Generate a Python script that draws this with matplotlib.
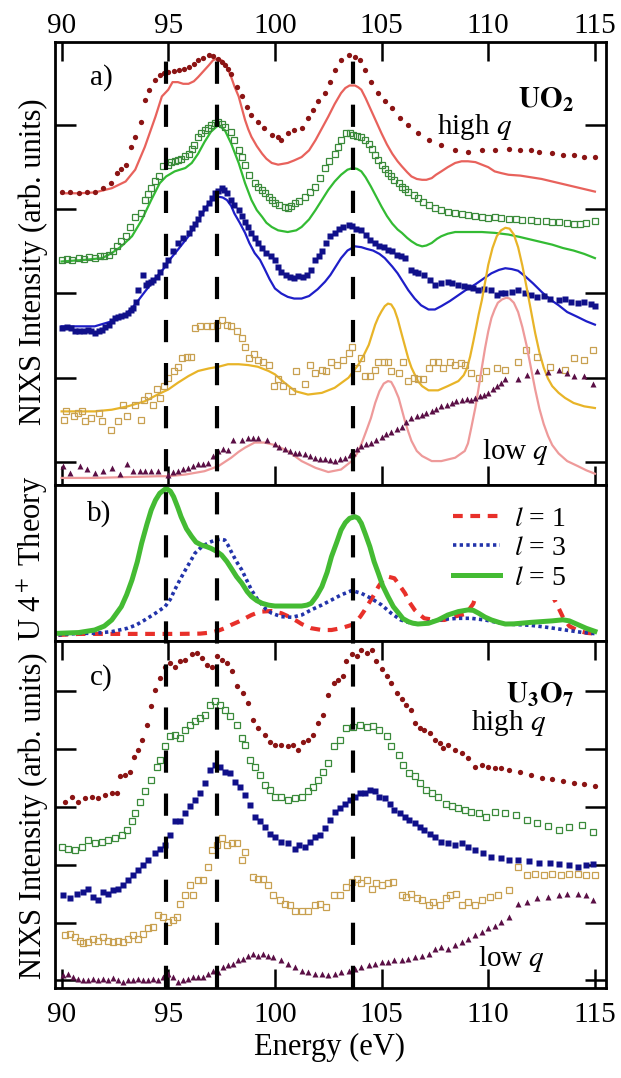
import numpy as np
import matplotlib
matplotlib.use('Agg')
import matplotlib.pyplot as plt

plt.rcParams['font.family'] = ['Liberation Serif', 'DejaVu Serif']
plt.rcParams['mathtext.fontset'] = 'stix'
plt.rcParams['lines.scale_dashes'] = False

# ---- data: (energy eV, intensity) ----
# panel a) UO2
uo2_red_pts = [(90.0, 3.21), (90.4, 3.2), (90.8, 3.19), (91.2, 3.2), (91.55, 3.21), (91.95, 3.25), (92.3, 3.31),
               (92.6, 3.43), (92.8, 3.48), (93.0, 3.53), (93.25, 3.74), (93.45, 3.86), (93.7, 4.04), (93.9, 4.30),
               (94.1, 4.42), (94.4, 4.53), (94.6, 4.59), (94.8, 4.62), (95.0, 4.63), (95.25, 4.64), (95.5, 4.65),
               (95.75, 4.67), (95.95, 4.69), (96.2, 4.73), (96.4, 4.77), (96.65, 4.80), (96.9, 4.83), (97.1, 4.82),
               (97.35, 4.79), (97.5, 4.75), (97.65, 4.71), (97.8, 4.66), (97.95, 4.61), (98.2, 4.45), (98.45, 4.34),
               (98.7, 4.22), (98.9, 4.12), (99.2, 4.04), (99.5, 3.96), (99.85, 3.88), (100.15, 3.86), (100.3, 3.82),
               (100.6, 3.90), (100.9, 3.94), (101.25, 3.96), (101.55, 4.08), (101.8, 4.18), (102.0, 4.28),
               (102.35, 4.38), (102.6, 4.51), (102.8, 4.65), (103.1, 4.77), (103.45, 4.83), (103.75, 4.81),
               (104.0, 4.77), (104.2, 4.65), (104.5, 4.51), (104.85, 4.38), (105.15, 4.28), (105.5, 4.20),
               (105.85, 4.08), (106.25, 4.00), (106.7, 3.90), (107.2, 3.82), (107.8, 3.76), (108.45, 3.70),
               (109.05, 3.68), (109.7, 3.70), (110.3, 3.70), (110.95, 3.72), (111.5, 3.70), (112.0, 3.70),
               (112.4, 3.68), (113.0, 3.67), (113.5, 3.65), (114.0, 3.64), (114.5, 3.62), (115.0, 3.62)]
uo2_red_fit = [(90.0, 3.19), (90.8, 3.19), (91.55, 3.20), (92.35, 3.25), (93.0, 3.33), (93.45, 3.47), (93.9, 3.74),
               (94.4, 4.10), (94.7, 4.34), (95.0, 4.42), (95.2, 4.51), (95.45, 4.51), (95.7, 4.49), (95.95, 4.49),
               (96.2, 4.52), (96.4, 4.57), (96.65, 4.64), (96.9, 4.71), (97.1, 4.77), (97.3, 4.79), (97.5, 4.77),
               (97.65, 4.73), (97.8, 4.66), (97.95, 4.57), (98.1, 4.46), (98.3, 4.34), (98.45, 4.20), (98.6, 4.06),
               (98.75, 3.95), (98.9, 3.86), (99.15, 3.75), (99.4, 3.66), (99.6, 3.60), (99.85, 3.55), (100.15, 3.53),
               (100.6, 3.55), (100.9, 3.58), (101.25, 3.62), (101.6, 3.70), (101.9, 3.82), (102.2, 3.96),
               (102.5, 4.10), (102.8, 4.25), (103.1, 4.38), (103.3, 4.44), (103.5, 4.47), (103.75, 4.47),
               (103.9, 4.45), (104.05, 4.42), (104.25, 4.32), (104.5, 4.18), (104.75, 4.04), (105.0, 3.90),
               (105.25, 3.77), (105.5, 3.66), (105.75, 3.57), (105.95, 3.51), (106.2, 3.44), (106.4, 3.39),
               (106.65, 3.36), (106.9, 3.35), (107.1, 3.35), (107.35, 3.37), (107.55, 3.41), (107.8, 3.45),
               (108.1, 3.50), (108.45, 3.55), (108.75, 3.57), (109.05, 3.57), (109.4, 3.56), (109.7, 3.53),
               (110.0, 3.50), (110.3, 3.45), (110.6, 3.43), (110.95, 3.41), (111.5, 3.40), (112.0, 3.38),
               (112.5, 3.36), (113.0, 3.33), (113.5, 3.30), (114.0, 3.27), (114.5, 3.24), (115.0, 3.21)]
uo2_green_pts = [(90.0, 2.40), (90.25, 2.41), (90.5, 2.40), (90.8, 2.42), (91.05, 2.41), (91.3, 2.43), (91.55, 2.42),
                 (91.8, 2.44), (92.0, 2.45), (92.2, 2.46), (92.4, 2.50), (92.6, 2.56), (92.8, 2.62), (93.0, 2.68),
                 (93.2, 2.79), (93.45, 2.91), (93.7, 2.95), (93.9, 3.11), (94.05, 3.18), (94.2, 3.25), (94.4, 3.33),
                 (94.55, 3.39), (94.75, 3.51), (95.0, 3.53), (95.15, 3.56), (95.3, 3.57), (95.45, 3.58), (95.6, 3.60),
                 (95.8, 3.63), (95.95, 3.66), (96.1, 3.71), (96.2, 3.76), (96.4, 3.86), (96.55, 3.90), (96.7, 3.94),
                 (96.85, 3.97), (97.0, 4.00), (97.2, 4.02), (97.35, 4.04), (97.5, 4.01), (97.65, 3.98), (97.95, 3.92),
                 (98.1, 3.82), (98.3, 3.70), (98.45, 3.62), (98.6, 3.53), (98.8, 3.41), (99.05, 3.31), (99.2, 3.27),
                 (99.4, 3.23), (99.55, 3.19), (99.7, 3.15), (99.85, 3.11), (100.0, 3.07), (100.2, 3.05),
                 (100.45, 3.03), (100.6, 3.01), (100.75, 3.04), (100.95, 3.07), (101.15, 3.10), (101.4, 3.15),
                 (101.65, 3.21), (101.9, 3.27), (102.1, 3.37), (102.35, 3.49), (102.55, 3.57), (102.8, 3.66),
                 (102.95, 3.74), (103.1, 3.82), (103.35, 3.90), (103.5, 3.91), (103.65, 3.88), (103.85, 3.87),
                 (104.05, 3.86), (104.2, 3.82), (104.4, 3.78), (104.55, 3.71), (104.7, 3.64), (104.85, 3.58),
                 (105.0, 3.53), (105.15, 3.48), (105.3, 3.43), (105.45, 3.39), (105.6, 3.35), (105.8, 3.31),
                 (105.95, 3.27), (106.1, 3.24), (106.25, 3.21), (106.5, 3.17), (106.7, 3.13), (106.95, 3.09),
                 (107.2, 3.05), (107.5, 3.02), (107.8, 2.99), (108.1, 2.97), (108.45, 2.95), (108.75, 2.94),
                 (109.05, 2.93), (109.4, 2.92), (109.7, 2.91), (110.0, 2.90), (110.3, 2.91), (110.6, 2.90),
                 (110.95, 2.89), (111.3, 2.88), (111.6, 2.87), (112.0, 2.87), (112.3, 2.86), (112.7, 2.86),
                 (113.0, 2.85), (113.3, 2.85), (113.7, 2.84), (114.0, 2.83), (114.3, 2.83), (114.6, 2.84), (115.0, 2.86)]
uo2_green_fit = [(90.0, 2.38), (91.1, 2.40), (91.9, 2.42), (92.35, 2.48), (92.8, 2.56), (93.3, 2.68), (93.75, 2.87),
                 (94.2, 3.11), (94.6, 3.31), (94.9, 3.39), (95.3, 3.45), (95.8, 3.49), (96.1, 3.55), (96.4, 3.66),
                 (96.7, 3.80), (97.0, 3.92), (97.35, 4.00), (97.65, 3.94), (97.95, 3.78), (98.3, 3.55), (98.6, 3.31),
                 (98.9, 3.11), (99.15, 2.99), (99.4, 2.91), (99.6, 2.84), (99.85, 2.79), (100.15, 2.75), (100.6, 2.73),
                 (101.0, 2.75), (101.25, 2.79), (101.6, 2.88), (101.9, 2.99), (102.2, 3.11), (102.5, 3.23),
                 (102.8, 3.33), (103.1, 3.41), (103.4, 3.47), (103.65, 3.49), (103.85, 3.48), (104.05, 3.45),
                 (104.25, 3.38), (104.5, 3.27), (104.75, 3.15), (105.0, 3.03), (105.25, 2.92), (105.5, 2.83),
                 (105.75, 2.76), (105.95, 2.72), (106.2, 2.66), (106.4, 2.62), (106.65, 2.58), (106.9, 2.56),
                 (107.1, 2.57), (107.35, 2.60), (107.6, 2.65), (107.8, 2.68), (108.1, 2.71), (108.45, 2.73),
                 (109.05, 2.73), (109.7, 2.73), (110.3, 2.72), (110.95, 2.70), (111.5, 2.67), (112.0, 2.64),
                 (112.5, 2.61), (113.0, 2.58), (113.5, 2.54), (114.0, 2.51), (114.5, 2.47), (115.0, 2.42)]
uo2_blue_pts = [(90.0, 1.59), (90.25, 1.60), (90.45, 1.59), (90.65, 1.56), (90.8, 1.55), (91.05, 1.56), (91.25, 1.57),
                (91.4, 1.55), (91.55, 1.53), (91.75, 1.55), (91.9, 1.57), (92.05, 1.60), (92.2, 1.63), (92.35, 1.67),
                (92.5, 1.71), (92.65, 1.72), (92.8, 1.73), (92.95, 1.75), (93.1, 1.77), (93.25, 1.80), (93.35, 1.83),
                (93.5, 1.90), (93.6, 2.04), (93.8, 2.22), (93.95, 2.10), (94.05, 2.12), (94.2, 2.14), (94.3, 2.16),
                (94.45, 2.20), (94.6, 2.26), (94.85, 2.34), (95.0, 2.40), (95.2, 2.50), (95.45, 2.60), (95.7, 2.66),
                (95.95, 2.72), (96.1, 2.78), (96.25, 2.83), (96.4, 2.89), (96.55, 2.95), (96.7, 3.01), (96.9, 3.07),
                (97.05, 3.13), (97.2, 3.19), (97.35, 3.22), (97.5, 3.25), (97.6, 3.23), (97.75, 3.19), (97.95, 3.11),
                (98.1, 3.05), (98.3, 2.99), (98.45, 2.92), (98.6, 2.85), (98.75, 2.79), (98.9, 2.72), (99.05, 2.66),
                (99.2, 2.60), (99.4, 2.54), (99.6, 2.48), (99.8, 2.44), (100.0, 2.40), (100.15, 2.32), (100.3, 2.26),
                (100.5, 2.22), (100.7, 2.20), (100.9, 2.18), (101.1, 2.21), (101.3, 2.20), (101.5, 2.22),
                (101.7, 2.28), (101.9, 2.40), (102.05, 2.44), (102.2, 2.50), (102.4, 2.60), (102.6, 2.68),
                (102.8, 2.72), (103.0, 2.76), (103.2, 2.79), (103.45, 2.81), (103.6, 2.80), (103.8, 2.77),
                (104.05, 2.75), (104.25, 2.70), (104.45, 2.64), (104.7, 2.60), (104.9, 2.56), (105.1, 2.55),
                (105.3, 2.52), (105.5, 2.50), (105.7, 2.46), (105.9, 2.44), (106.1, 2.42), (106.4, 2.28),
                (106.55, 2.26), (106.7, 2.24), (107.0, 2.22), (107.25, 2.16), (107.5, 2.10), (107.8, 2.12),
                (108.1, 2.14), (108.3, 2.12), (108.6, 2.10), (108.85, 2.09), (109.05, 2.08), (109.3, 2.06),
                (109.5, 2.04), (109.8, 2.05), (110.15, 2.04), (110.4, 1.98), (110.6, 2.01), (110.8, 2.00),
                (111.1, 2.02), (111.4, 2.04), (111.7, 2.00), (112.0, 1.98), (112.3, 1.96), (112.6, 1.97),
                (112.9, 1.93), (113.3, 1.92), (113.6, 1.93), (113.9, 1.90), (114.2, 1.89), (114.5, 1.90),
                (114.8, 1.87), (115.0, 1.85)]
uo2_blue_fit = [(90.0, 1.61), (90.8, 1.61), (91.55, 1.61), (92.35, 1.67), (93.0, 1.75), (93.45, 1.87), (93.9, 2.02),
                (94.4, 2.18), (94.8, 2.30), (95.0, 2.38), (95.45, 2.52), (95.95, 2.68), (96.4, 2.87), (96.7, 2.99),
                (96.9, 3.07), (97.1, 3.12), (97.35, 3.15), (97.55, 3.14), (97.75, 3.11), (97.95, 3.04), (98.1, 2.95),
                (98.35, 2.84), (98.6, 2.72), (98.8, 2.60), (99.05, 2.48), (99.3, 2.40), (99.5, 2.30), (99.75, 2.17),
                (100.0, 2.06), (100.3, 2.00), (100.6, 1.96), (100.9, 1.94), (101.25, 1.94), (101.6, 1.97),
                (102.0, 2.05), (102.35, 2.14), (102.6, 2.22), (102.8, 2.30), (103.1, 2.42), (103.4, 2.51),
                (103.75, 2.56), (104.05, 2.55), (104.3, 2.53), (104.6, 2.51), (104.9, 2.47), (105.15, 2.42),
                (105.5, 2.32), (105.75, 2.24), (105.95, 2.16), (106.25, 2.04), (106.55, 1.94), (106.85, 1.86),
                (107.2, 1.81), (107.5, 1.81), (107.8, 1.85), (108.2, 1.91), (108.6, 1.98), (109.0, 2.05),
                (109.4, 2.11), (109.8, 2.18), (110.15, 2.24), (110.5, 2.28), (110.8, 2.30), (111.1, 2.29),
                (111.4, 2.27), (111.75, 2.20), (112.1, 2.12), (112.5, 2.02), (112.9, 1.93), (113.3, 1.86),
                (113.7, 1.78), (114.2, 1.72), (114.6, 1.67), (115.0, 1.63)]
uo2_yellow_pts = [(90.1, 0.50), (90.2, 0.60), (90.6, 0.54), (90.75, 0.58), (90.95, 0.60), (91.1, 0.48), (91.4, 0.52),
                  (91.75, 0.58), (91.9, 0.48), (92.3, 0.38), (92.65, 0.48), (92.9, 0.68), (93.05, 0.54),
                  (93.45, 0.68), (93.7, 0.50), (93.85, 0.74), (94.05, 0.78), (94.3, 0.68), (94.45, 0.86),
                  (94.6, 0.76), (94.8, 0.90), (95.0, 1.00), (95.25, 1.08), (95.45, 1.13), (95.65, 1.23),
                  (95.9, 1.25), (96.05, 1.24), (96.25, 1.59), (96.5, 1.61), (96.8, 1.61), (97.05, 1.61),
                  (97.3, 1.63), (97.5, 1.69), (97.75, 1.63), (97.95, 1.61), (98.2, 1.55), (98.45, 1.47),
                  (98.6, 1.37), (98.8, 1.23), (99.0, 1.28), (99.2, 1.21), (99.45, 1.19), (99.7, 1.15),
                  (99.95, 0.90), (100.15, 0.98), (100.4, 0.90), (100.8, 0.84), (101.0, 1.08), (101.4, 0.92),
                  (101.65, 1.15), (101.9, 1.06), (102.2, 1.09), (102.4, 1.08), (102.65, 1.19), (102.9, 1.15),
                  (103.2, 1.21), (103.45, 1.29), (103.6, 1.37), (103.85, 1.11), (104.05, 1.23), (104.2, 1.02),
                  (104.45, 1.02), (104.7, 1.09), (104.85, 1.19), (105.1, 1.19), (105.3, 1.19), (105.45, 1.08),
                  (105.8, 1.06), (106.0, 1.19), (106.25, 0.96), (106.5, 1.00), (106.7, 0.98), (106.95, 0.98),
                  (107.2, 1.11), (107.4, 1.19), (107.65, 1.19), (107.9, 1.11), (108.2, 1.19), (108.45, 1.15),
                  (108.7, 1.17), (108.9, 1.15), (109.2, 1.06), (109.55, 1.00), (109.9, 1.08), (110.4, 1.11),
                  (110.8, 1.09), (111.4, 1.19), (111.75, 1.33), (112.3, 1.25), (112.9, 1.13), (113.6, 1.09),
                  (114.0, 1.23), (114.5, 1.21), (114.9, 1.33)]
uo2_yellow_fit = [(90.0, 0.60), (90.8, 0.60), (91.55, 0.60), (92.35, 0.62), (93.1, 0.66), (93.9, 0.72), (94.5, 0.80),
                  (95.0, 0.86), (95.45, 0.94), (95.95, 1.02), (96.4, 1.08), (96.9, 1.11), (97.35, 1.13), (97.8, 1.16),
                  (98.3, 1.16), (98.75, 1.15), (99.2, 1.13), (99.7, 1.08), (100.0, 1.04), (100.45, 0.94),
                  (100.95, 0.84), (101.55, 0.80), (102.2, 0.82), (102.8, 0.88), (103.45, 1.00), (103.9, 1.15),
                  (104.15, 1.26), (104.4, 1.39), (104.55, 1.51), (104.7, 1.63), (104.85, 1.72), (105.0, 1.79),
                  (105.15, 1.85), (105.3, 1.88), (105.45, 1.87), (105.6, 1.81), (105.75, 1.70), (105.95, 1.51),
                  (106.1, 1.37), (106.25, 1.23), (106.4, 1.12), (106.55, 1.04), (106.7, 0.96), (106.9, 0.90),
                  (107.2, 0.85), (107.65, 0.85), (108.1, 0.90), (108.6, 0.96), (108.85, 1.03), (109.0, 1.11),
                  (109.15, 1.25), (109.3, 1.43), (109.45, 1.62), (109.55, 1.75), (109.7, 1.92), (109.8, 2.06),
                  (110.0, 2.34), (110.2, 2.54), (110.4, 2.68), (110.6, 2.75), (110.8, 2.78), (111.0, 2.77),
                  (111.2, 2.70), (111.4, 2.55), (111.6, 2.33), (111.8, 2.07), (112.0, 1.80), (112.2, 1.53),
                  (112.4, 1.30), (112.6, 1.12), (112.8, 0.99), (113.0, 0.90), (113.3, 0.82), (113.6, 0.76),
                  (114.0, 0.70), (114.5, 0.66), (115.0, 0.64)]
uo2_purple_pts = [(90.08, -0.05), (90.4, -0.13), (90.86, -0.05), (91.17, -0.09), (91.56, -0.13), (91.95, -0.11),
                  (92.34, -0.07), (92.73, -0.14), (93.05, -0.03), (93.36, -0.11), (93.67, -0.11), (93.9, -0.11),
                  (94.2, -0.11), (94.53, -0.11), (95.0, -0.15), (95.23, -0.12), (95.47, -0.11), (95.7, -0.09),
                  (95.94, -0.07), (96.17, -0.05), (96.4, -0.03), (96.64, -0.02), (96.88, -0.01), (97.1, 0.07),
                  (97.34, 0.13), (97.58, 0.15), (97.81, 0.14), (98.05, 0.26), (98.44, 0.26), (98.75, 0.28),
                  (98.98, 0.28), (99.22, 0.28), (99.61, 0.26), (100.0, 0.21), (100.2, 0.18), (100.45, 0.15),
                  (100.7, 0.13), (100.95, 0.11), (101.15, 0.10), (101.4, 0.09), (101.65, 0.07), (101.9, 0.05),
                  (102.1, 0.04), (102.35, 0.03), (102.6, 0.02), (102.8, 0.01), (103.05, 0.03), (103.3, 0.05),
                  (103.5, 0.08), (103.65, 0.11), (103.85, 0.15), (104.05, 0.19), (104.25, 0.21), (104.5, 0.23),
                  (104.75, 0.26), (105.0, 0.30), (105.2, 0.33), (105.45, 0.36), (105.7, 0.39), (105.95, 0.42),
                  (106.15, 0.47), (106.4, 0.52), (106.65, 0.54), (106.9, 0.56), (107.1, 0.58), (107.35, 0.60),
                  (107.55, 0.63), (107.8, 0.66), (108.05, 0.68), (108.3, 0.70), (108.5, 0.72), (108.75, 0.74),
                  (109.0, 0.75), (109.2, 0.74), (109.4, 0.76), (109.6, 0.78), (109.8, 0.80), (110.0, 0.82),
                  (110.2, 0.86), (110.4, 0.90), (110.6, 0.94), (110.8, 0.98), (111.4, 0.98), (111.8, 1.03),
                  (112.3, 1.08), (112.8, 1.07), (113.3, 1.09), (113.7, 1.06), (114.0, 1.02), (114.5, 1.02),
                  (114.9, 0.92)]
uo2_pink_fit = [(90.0, -0.19), (91.55, -0.19), (93.1, -0.18), (94.5, -0.17), (95.0, -0.17), (95.8, -0.15),
                (96.7, -0.11), (97.35, -0.05), (97.95, 0.05), (98.3, 0.12), (98.6, 0.17), (99.05, 0.23), (99.5, 0.23),
                (100.0, 0.20), (100.6, 0.13), (101.25, 0.01), (101.9, -0.07), (102.5, -0.12), (103.1, -0.09),
                (103.6, 0.01), (103.85, 0.10), (104.05, 0.21), (104.3, 0.38), (104.5, 0.52), (104.7, 0.70),
                (104.9, 0.84), (105.1, 0.93), (105.3, 0.96), (105.45, 0.95), (105.6, 0.88), (105.8, 0.76),
                (105.95, 0.62), (106.1, 0.48), (106.25, 0.36), (106.4, 0.25), (106.65, 0.13), (106.9, 0.07),
                (107.35, 0.01), (107.8, 0.01), (108.45, 0.05), (108.9, 0.13), (109.05, 0.22), (109.2, 0.40),
                (109.4, 0.65), (109.55, 0.88), (109.7, 1.12), (109.85, 1.35), (110.0, 1.55), (110.15, 1.71),
                (110.3, 1.81), (110.45, 1.89), (110.65, 1.93), (110.85, 1.95), (111.0, 1.94), (111.2, 1.89),
                (111.4, 1.78), (111.6, 1.60), (111.8, 1.38), (112.0, 1.12), (112.2, 0.86), (112.4, 0.63),
                (112.6, 0.45), (112.8, 0.31), (113.0, 0.20), (113.3, 0.10), (113.7, 0.01), (114.2, -0.05),
                (114.6, -0.10), (115.0, -0.14)]

# panel b) U 4+ theory
theory_l1 = [(89.85, 1.1), (90.8, 1.8), (92.35, 1.8), (93.9, 1.8), (95.45, 1.8), (96.5, 2.0), (97.0, 2.7), (97.35, 4.0),
             (97.65, 5.6), (97.95, 7.8), (98.3, 10.0), (98.6, 12.2), (98.9, 14.4), (99.15, 15.8), (99.4, 16.7),
             (99.85, 17.1), (100.3, 15.6), (100.55, 14.0), (100.8, 12.2), (101.05, 10.2), (101.25, 8.4),
             (101.5, 6.8), (101.7, 5.6), (102.2, 4.4), (102.65, 4.4), (103.1, 5.6), (103.6, 7.8), (103.8, 10.0),
             (104.0, 13.3), (104.2, 17.5), (104.4, 22.2), (104.65, 28.0), (104.85, 33.3), (105.05, 37.5),
             (105.3, 40.0), (105.6, 38.9), (105.85, 34.0), (106.1, 28.9), (106.3, 23.0), (106.55, 17.8),
             (106.8, 14.5), (107.0, 12.2), (107.5, 11.1), (107.95, 11.1), (108.4, 13.3), (108.9, 15.0),
             (109.1, 18.0), (109.3, 22.0), (109.5, 31.0), (109.8, 42.0), (110.1, 52.0), (110.5, 57.0),
             (111.0, 58.0), (111.5, 55.0), (112.0, 48.0), (112.5, 38.0), (112.9, 30.0), (113.2, 22.0),
             (113.5, 13.0), (113.8, 7.0), (114.2, 4.0), (114.6, 2.5), (115.0, 2.0)]
theory_l3 = [(89.85, 1.1), (90.8, 2.2), (91.55, 2.2), (92.35, 3.3), (93.1, 5.6), (93.5, 7.8), (93.9, 11.1), (94.4, 15.6),
             (94.85, 20.0), (95.1, 25.0), (95.3, 31.1), (95.55, 38.0), (95.8, 44.4), (96.05, 50.5), (96.25, 55.6),
             (96.5, 59.0), (96.7, 61.1), (96.95, 63.0), (97.2, 64.4), (97.45, 65.0), (97.65, 64.4), (97.8, 61.0),
             (97.95, 56.7), (98.2, 50.0), (98.45, 44.4), (98.7, 37.0), (98.9, 31.1), (99.15, 25.5), (99.4, 21.1),
             (99.6, 18.0), (99.85, 15.6), (100.3, 13.3), (100.8, 12.9), (101.25, 14.4), (101.7, 17.8),
             (102.2, 21.1), (102.65, 24.4), (103.1, 27.8), (103.6, 30.7), (104.05, 28.9), (104.5, 25.6),
             (105.0, 21.1), (105.45, 15.6), (105.9, 11.1), (106.4, 8.9), (106.85, 8.4), (107.3, 10.0),
             (107.95, 11.6), (108.6, 12.2), (109.2, 12.2), (109.85, 11.1), (110.4, 9.5), (110.8, 8.4),
             (111.4, 8.0), (112.0, 7.5), (112.6, 6.5), (113.2, 5.3), (113.8, 4.0), (114.4, 2.8), (115.0, 2.0)]
theory_l5 = [(89.85, 2.2), (90.8, 2.7), (91.55, 4.4), (92.0, 7.0), (92.35, 11.1), (92.8, 20.0), (93.05, 28.0),
             (93.3, 37.8), (93.55, 50.0), (93.75, 62.2), (94.0, 75.0), (94.2, 84.4), (94.4, 91.0), (94.6, 95.6),
             (94.9, 98.9), (95.1, 97.0), (95.25, 93.3), (95.45, 86.0), (95.6, 80.0), (95.85, 72.0), (96.1, 66.7),
             (96.3, 63.0), (96.55, 61.1), (96.8, 60.0), (97.0, 58.9), (97.25, 57.0), (97.5, 54.4), (97.75, 50.0),
             (97.95, 45.6), (98.2, 40.0), (98.45, 35.6), (98.7, 30.0), (98.9, 26.7), (99.15, 24.0), (99.4, 22.2),
             (99.7, 21.0), (100.0, 20.4), (100.6, 20.4), (101.25, 20.4), (101.5, 21.0), (101.7, 22.2),
             (101.95, 27.0), (102.2, 33.3), (102.45, 43.0), (102.65, 53.3), (102.9, 63.0), (103.1, 71.1),
             (103.3, 76.0), (103.5, 78.9), (103.75, 80.0), (103.9, 79.0), (104.05, 75.6), (104.25, 68.0),
             (104.45, 60.0), (104.65, 50.0), (104.85, 42.2), (105.05, 34.0), (105.3, 26.7), (105.55, 20.0),
             (105.8, 15.6), (106.0, 12.0), (106.25, 10.0), (106.45, 9.0), (106.7, 8.4), (107.2, 8.9),
             (107.65, 11.1), (108.1, 14.4), (108.6, 16.7), (109.05, 17.8), (109.3, 17.5), (109.55, 15.6),
             (109.85, 13.0), (110.15, 11.1), (110.5, 9.5), (110.8, 8.4), (111.2, 8.5), (111.6, 9.0),
             (112.0, 9.5), (112.5, 10.0), (113.0, 10.5), (113.5, 11.2), (113.8, 10.5), (114.2, 8.0),
             (114.6, 5.5), (115.0, 3.5)]

# panel c) U3O7
u3o7_red_pts = [(90.16, 3.09), (90.47, 3.18), (90.78, 3.09), (91.09, 3.15), (91.41, 3.18), (91.72, 3.15), (92.03, 3.21),
                (92.34, 3.24), (92.58, 3.25), (92.73, 3.53), (92.97, 3.55), (93.2, 3.60), (93.41, 3.87), (93.59, 3.99),
                (93.78, 4.16), (93.98, 4.42), (94.19, 4.74), (94.38, 5.03), (94.61, 5.23), (94.84, 5.43),
                (95.08, 5.49), (95.31, 5.43), (95.55, 5.52), (95.78, 5.55), (96.09, 5.64), (96.33, 5.66),
                (96.56, 5.58), (96.8, 5.46), (97.03, 5.43), (97.27, 5.61), (97.5, 5.55), (97.73, 5.49), (97.97, 5.35),
                (98.2, 5.09), (98.52, 4.97), (98.75, 4.80), (98.98, 4.51), (99.22, 4.36), (99.53, 4.25),
                (99.77, 4.13), (100.0, 4.08), (100.3, 4.08), (100.6, 4.05), (100.85, 4.08), (101.1, 3.99),
                (101.3, 4.13), (101.55, 4.16), (101.8, 4.25), (102.0, 4.45), (102.25, 4.60), (102.5, 4.94),
                (102.75, 5.14), (102.95, 5.20), (103.2, 5.26), (103.35, 5.52), (103.6, 5.64), (103.85, 5.61),
                (104.05, 5.72), (104.3, 5.66), (104.55, 5.72), (104.75, 5.52), (105.0, 5.38), (105.25, 5.26),
                (105.45, 5.14), (105.7, 4.97), (105.95, 4.86), (106.15, 4.77), (106.4, 4.68), (106.55, 4.45),
                (106.8, 4.36), (107.0, 4.34), (107.25, 4.28), (107.5, 4.16), (107.75, 4.10), (107.9, 4.02),
                (108.1, 4.08), (108.45, 3.99), (108.75, 3.93), (109.05, 3.84), (109.4, 3.70), (109.7, 3.73),
                (110.0, 3.70), (110.3, 3.67), (110.6, 3.67), (110.95, 3.64), (111.5, 3.60), (112.0, 3.55),
                (112.5, 3.50), (113.0, 3.48), (113.5, 3.45), (114.0, 3.42), (114.5, 3.40), (115.0, 3.36)]
u3o7_green_pts = [(90.0, 2.31), (90.31, 2.28), (90.63, 2.25), (90.94, 2.31), (91.25, 2.43), (91.56, 2.37), (91.88, 2.40),
                  (92.19, 2.43), (92.5, 2.46), (92.81, 2.51), (93.05, 2.60), (93.28, 2.75), (93.44, 2.89),
                  (93.67, 3.09), (93.91, 3.27), (94.19, 3.47), (94.45, 3.70), (94.61, 3.82), (94.84, 4.05),
                  (95.08, 4.22), (95.31, 4.25), (95.55, 4.19), (95.78, 4.34), (96.02, 4.42), (96.25, 4.48),
                  (96.48, 4.54), (96.72, 4.60), (96.95, 4.77), (97.19, 4.83), (97.42, 4.77), (97.66, 4.68),
                  (97.89, 4.57), (98.2, 4.42), (98.44, 4.19), (98.59, 4.08), (98.83, 3.82), (99.06, 3.70),
                  (99.3, 3.55), (99.53, 3.38), (99.77, 3.29), (100.0, 3.18), (100.3, 3.18), (100.6, 3.12),
                  (100.95, 3.15), (101.25, 3.18), (101.55, 3.27), (101.8, 3.35), (102.0, 3.47), (102.25, 3.61),
                  (102.5, 3.76), (102.75, 4.05), (103.05, 4.16), (103.35, 4.36), (103.65, 4.39), (104.0, 4.42),
                  (104.3, 4.39), (104.6, 4.40), (104.9, 4.34), (105.25, 4.22), (105.45, 4.05), (105.8, 3.90),
                  (106.0, 3.73), (106.3, 3.58), (106.55, 3.53), (106.8, 3.41), (107.1, 3.29), (107.35, 3.24),
                  (107.65, 3.18), (108.0, 3.06), (108.3, 3.01), (108.6, 2.98), (108.9, 2.95), (109.2, 2.92),
                  (109.55, 2.89), (109.9, 2.83), (110.3, 2.92), (110.8, 2.89), (111.3, 2.86), (111.8, 2.78),
                  (112.3, 2.72), (112.8, 2.68), (113.3, 2.60), (113.8, 2.66), (114.4, 2.69), (114.9, 2.57)]
u3o7_blue_pts = [(90.08, 1.47), (90.39, 1.42), (90.7, 1.50), (91.02, 1.53), (91.25, 1.59), (91.48, 1.45), (91.72, 1.39),
                 (91.95, 1.53), (92.19, 1.50), (92.42, 1.56), (92.66, 1.59), (92.89, 1.65), (93.13, 1.73),
                 (93.36, 1.82), (93.59, 1.91), (93.83, 1.99), (94.06, 2.08), (94.38, 2.20), (94.61, 2.28),
                 (94.84, 2.34), (95.08, 2.51), (95.31, 2.75), (95.55, 2.75), (95.78, 2.89), (96.02, 3.01),
                 (96.25, 3.12), (96.48, 3.24), (96.72, 3.41), (96.95, 3.64), (97.19, 3.73), (97.42, 3.70),
                 (97.66, 3.61), (97.89, 3.58), (98.13, 3.44), (98.36, 3.35), (98.59, 3.21), (98.83, 3.03),
                 (99.06, 2.83), (99.3, 2.75), (99.53, 2.66), (99.77, 2.54), (100.0, 2.49), (100.3, 2.40),
                 (100.6, 2.37), (100.95, 2.28), (101.15, 2.34), (101.4, 2.31), (101.65, 2.40), (101.9, 2.49),
                 (102.1, 2.51), (102.35, 2.63), (102.6, 2.77), (102.8, 2.92), (103.05, 2.98), (103.3, 3.06),
                 (103.5, 3.12), (103.75, 3.18), (104.0, 3.24), (104.2, 3.24), (104.45, 3.29), (104.7, 3.27),
                 (104.9, 3.18), (105.15, 3.15), (105.4, 3.06), (105.6, 2.95), (105.85, 2.89), (106.1, 2.83),
                 (106.3, 2.77), (106.55, 2.72), (106.8, 2.66), (107.0, 2.60), (107.25, 2.54), (107.5, 2.49),
                 (107.8, 2.40), (108.1, 2.37), (108.45, 2.34), (108.75, 2.37), (109.05, 2.31), (109.4, 2.25),
                 (109.75, 2.20), (110.15, 2.14), (110.6, 2.11), (110.95, 2.08), (111.4, 2.08), (111.9, 2.06),
                 (112.4, 2.04), (112.9, 2.03), (113.3, 2.02), (113.8, 1.99), (114.2, 1.97), (114.6, 2.00),
                 (114.9, 2.02)]
u3o7_yellow_pts = [(90.16, 0.78), (90.39, 0.81), (90.63, 0.75), (90.86, 0.69), (91.02, 0.64), (91.25, 0.66),
                   (91.48, 0.72), (91.72, 0.69), (91.95, 0.75), (92.19, 0.69), (92.42, 0.66), (92.66, 0.69),
                   (92.89, 0.66), (93.13, 0.72), (93.36, 0.78), (93.59, 0.72), (93.83, 0.81), (94.06, 0.90),
                   (94.3, 0.92), (94.53, 1.13), (94.77, 1.10), (95.0, 1.01), (95.23, 1.04), (95.39, 1.10),
                   (95.55, 1.33), (95.78, 1.47), (96.02, 1.65), (96.17, 1.47), (96.41, 1.73), (96.64, 1.73),
                   (96.88, 1.97), (97.03, 2.25), (97.27, 2.34), (97.5, 2.46), (97.73, 2.34), (97.97, 2.37),
                   (98.2, 2.37), (98.44, 2.08), (98.59, 2.23), (98.98, 1.79), (99.22, 1.76), (99.45, 1.76),
                   (99.69, 1.65), (99.92, 1.47), (100.25, 1.39), (100.45, 1.33), (100.7, 1.30), (100.95, 1.21),
                   (101.25, 1.20), (101.55, 1.21), (101.9, 1.30), (102.1, 1.33), (102.4, 1.27), (102.75, 1.47),
                   (103.05, 1.47), (103.35, 1.62), (103.6, 1.71), (103.85, 1.76), (104.05, 1.68), (104.3, 1.73),
                   (104.55, 1.59), (104.75, 1.68), (105.0, 1.65), (105.3, 1.68), (105.55, 1.71), (105.95, 1.47),
                   (106.15, 1.45), (106.4, 1.50), (106.65, 1.42), (106.9, 1.39), (107.2, 1.30), (107.4, 1.36),
                   (107.75, 1.30), (108.0, 1.42), (108.2, 1.47), (108.5, 1.50), (108.75, 1.30), (109.05, 1.36),
                   (109.4, 1.30), (109.7, 1.39), (110.1, 1.45), (110.45, 1.47), (110.95, 1.56), (111.4, 1.97),
                   (111.8, 1.82), (112.2, 1.85), (112.6, 1.83), (113.0, 1.85), (113.4, 1.82), (113.8, 1.84),
                   (114.2, 1.85), (114.6, 1.82), (115.0, 1.82)]
u3o7_purple_pts = [(90.08, 0.09), (90.31, 0.12), (90.55, 0.06), (90.78, 0.03), (91.02, 0.0), (91.25, 0.0),
                   (91.48, 0.03), (91.72, 0.0), (91.95, 0.03), (92.19, 0.0), (92.42, 0.05), (92.66, 0.01),
                   (92.89, -0.03), (93.13, 0.0), (93.36, 0.0), (93.59, 0.03), (93.83, 0.0), (94.06, 0.0),
                   (94.3, 0.03), (94.53, 0.0), (94.77, 0.06), (95.0, 0.12), (95.23, 0.06), (95.47, -0.03),
                   (95.7, 0.0), (95.94, 0.03), (96.17, 0.06), (96.41, 0.06), (96.64, 0.06), (96.88, 0.12),
                   (97.11, 0.17), (97.34, 0.14), (97.58, 0.23), (97.81, 0.26), (98.05, 0.29), (98.28, 0.35),
                   (98.52, 0.38), (98.75, 0.43), (98.98, 0.46), (99.22, 0.43), (99.45, 0.46), (99.69, 0.43),
                   (99.92, 0.40), (100.3, 0.35), (100.6, 0.29), (100.95, 0.23), (101.25, 0.17), (101.55, 0.14),
                   (101.9, 0.12), (102.2, 0.12), (102.5, 0.09), (102.8, 0.12), (103.1, 0.14), (103.45, 0.17),
                   (103.75, 0.20), (104.05, 0.23), (104.4, 0.26), (104.7, 0.29), (105.0, 0.32), (105.3, 0.32),
                   (105.6, 0.35), (105.95, 0.35), (106.25, 0.38), (106.55, 0.40), (106.9, 0.43), (107.2, 0.46),
                   (107.5, 0.55), (107.8, 0.58), (108.1, 0.55), (108.45, 0.61), (108.75, 0.66), (109.05, 0.72),
                   (109.4, 0.78), (109.7, 0.84), (110.0, 0.90), (110.3, 0.95), (110.6, 1.01), (110.95, 1.10),
                   (111.4, 1.33), (111.8, 1.36), (112.3, 1.42), (112.8, 1.45), (113.3, 1.47), (113.7, 1.49),
                   (114.2, 1.50), (114.6, 1.48), (114.9, 1.39)]

edge_lines = [94.88, 97.3, 103.67]
xticks = [90, 95, 100, 105, 110, 115]


def xy(pairs):
    arr = np.array(pairs)
    return arr[:, 0], arr[:, 1]


W, H = 621, 1078
fig = plt.figure(figsize=(W / 100, H / 100), dpi=100)
left, right = 55, 606


def box(top, bottom):
    return [left / W, 1 - bottom / H, (right - left) / W, (bottom - top) / H]


ax_a = fig.add_axes(box(41.7, 485.5))
ax_b = fig.add_axes(box(485.5, 640.5))
ax_c = fig.add_axes(box(640.5, 988))

for ax in (ax_a, ax_b, ax_c):
    ax.set_xlim(89.69, 115.52)
    for sp in ax.spines.values():
        sp.set_linewidth(2.0)

# ---- a) ----
ms = 3.8
ax_a.plot(*xy(uo2_red_fit), color='#e8625c', lw=1.6)
ax_a.plot(*xy(uo2_red_pts), 'o', color='#8b1414', ms=ms, mec='none')
ax_a.plot(*xy(uo2_green_fit), color='#33bb33', lw=1.6)
ax_a.plot(*xy(uo2_green_pts), 's', color='#3a8a3a', ms=ms, mfc='none', mew=0.9)
ax_a.plot(*xy(uo2_blue_fit), color='#1e1ec8', lw=1.6)
ax_a.plot(*xy(uo2_blue_pts), 's', color='#10108a', ms=ms, mec='none')
ax_a.plot(*xy(uo2_yellow_fit), color='#e8b428', lw=1.6)
ax_a.plot(*xy(uo2_yellow_pts), 's', color='#c8a050', ms=ms, mfc='none', mew=0.9)
ax_a.plot(*xy(uo2_pink_fit), color='#ee9a9a', lw=1.6)
ax_a.plot(*xy(uo2_purple_pts), '^', color='#5a0f45', ms=ms, mec='none')
ax_a.set_ylim(-0.28, 4.99)
ax_a.set_yticks(range(0, 5))
ax_a.set_xticks(xticks)
ax_a.tick_params(axis='x', direction='in', top=True, bottom=True, labeltop=True, labelbottom=False,
                 length=14, width=1.8, labelsize=21, pad=2)
ax_a.tick_params(axis='y', direction='in', left=True, right=True, labelleft=False, length=15, width=1.8)
ax_a.text(91.33, 4.56, 'a)', fontsize=21, va='center', ha='left')
ax_a.text(114.03, 4.30, r'$\mathbf{UO_2}$', fontsize=21, va='center', ha='right')
ax_a.text(107.6, 3.98, 'high $q$', fontsize=21, va='center', ha='left')
ax_a.text(109.7, 0.12, 'low $q$', fontsize=21, va='center', ha='left')

# ---- b) ----
ax_b.plot(*xy(theory_l1), color='#e8302a', lw=3.0, dashes=(7, 5.5), label='$l$ = 1')
ax_b.plot(*xy(theory_l3), color='#2233aa', lw=2.6, dashes=(2.4, 2.4), label='$l$ = 3')
ax_b.plot(*xy(theory_l5), color='#44bb33', lw=3.6, label='$l$ = 5')
ax_b.set_ylim(-2.6, 100.8)
ax_b.tick_params(left=False, bottom=False, labelleft=False, labelbottom=False)
ax_b.text(91.17, 81.8, 'b)', fontsize=21, va='center', ha='left')
leg = ax_b.legend(loc='upper left', bbox_to_anchor=(0.705, 0.93), fontsize=20, frameon=True,
                  facecolor='white', edgecolor='none', framealpha=1, handlelength=1.7,
                  handletextpad=0.5, labelspacing=0.15, borderpad=0.35, borderaxespad=0)
leg.set_zorder(5)

# ---- c) ----
ax_c.plot(*xy(u3o7_red_pts), 'o', color='#8b1414', ms=ms, mec='none')
ax_c.plot(*xy(u3o7_green_pts), 's', color='#3a8a3a', ms=ms, mfc='none', mew=0.9)
ax_c.plot(*xy(u3o7_blue_pts), 's', color='#10108a', ms=ms, mec='none')
ax_c.plot(*xy(u3o7_yellow_pts), 's', color='#c8a050', ms=ms, mfc='none', mew=0.9)
ax_c.plot(*xy(u3o7_purple_pts), '^', color='#5a0f45', ms=ms, mec='none')
ax_c.set_ylim(-0.13, 5.88)
ax_c.set_yticks(range(0, 6))
ax_c.set_xticks(xticks)
ax_c.tick_params(axis='x', direction='in', top=True, bottom=True, labeltop=False, labelbottom=True,
                 length=14, width=1.8, labelsize=21, pad=10)
ax_c.tick_params(axis='y', direction='in', left=True, right=True, labelleft=False, length=15, width=1.8)
ax_c.text(91.33, 5.24, 'c)', fontsize=21, va='center', ha='left')
ax_c.text(114.03, 4.94, r'$\mathbf{U_3O_7}$', fontsize=21, va='center', ha='right')
ax_c.text(109.2, 4.45, 'high $q$', fontsize=21, va='center', ha='left')
ax_c.text(109.5, 0.38, 'low $q$', fontsize=21, va='center', ha='left')

# dashed reference lines running through all three panels
ax_o = fig.add_axes(box(41.7, 988), zorder=10)
ax_o.set_xlim(89.69, 115.52)
ax_o.axis('off')
for e in edge_lines:
    ax_o.axvline(e, color='black', lw=3, dashes=(16, 15))

fig.text(33 / W, 1 - 262 / H, 'NIXS Intensity (arb. units)', rotation=90, fontsize=22, ha='center', va='center')
fig.text(33 / W, 1 - 558 / H, r'U 4$^+$ Theory', rotation=90, fontsize=22, ha='center', va='center')
fig.text(33 / W, 1 - 816 / H, 'NIXS Intensity (arb. units)', rotation=90, fontsize=22, ha='center', va='center')
fig.text(330 / W, 1 - 1047 / H, 'Energy (eV)', fontsize=22, ha='center', va='center')

fig.savefig('out.png', dpi=100)
